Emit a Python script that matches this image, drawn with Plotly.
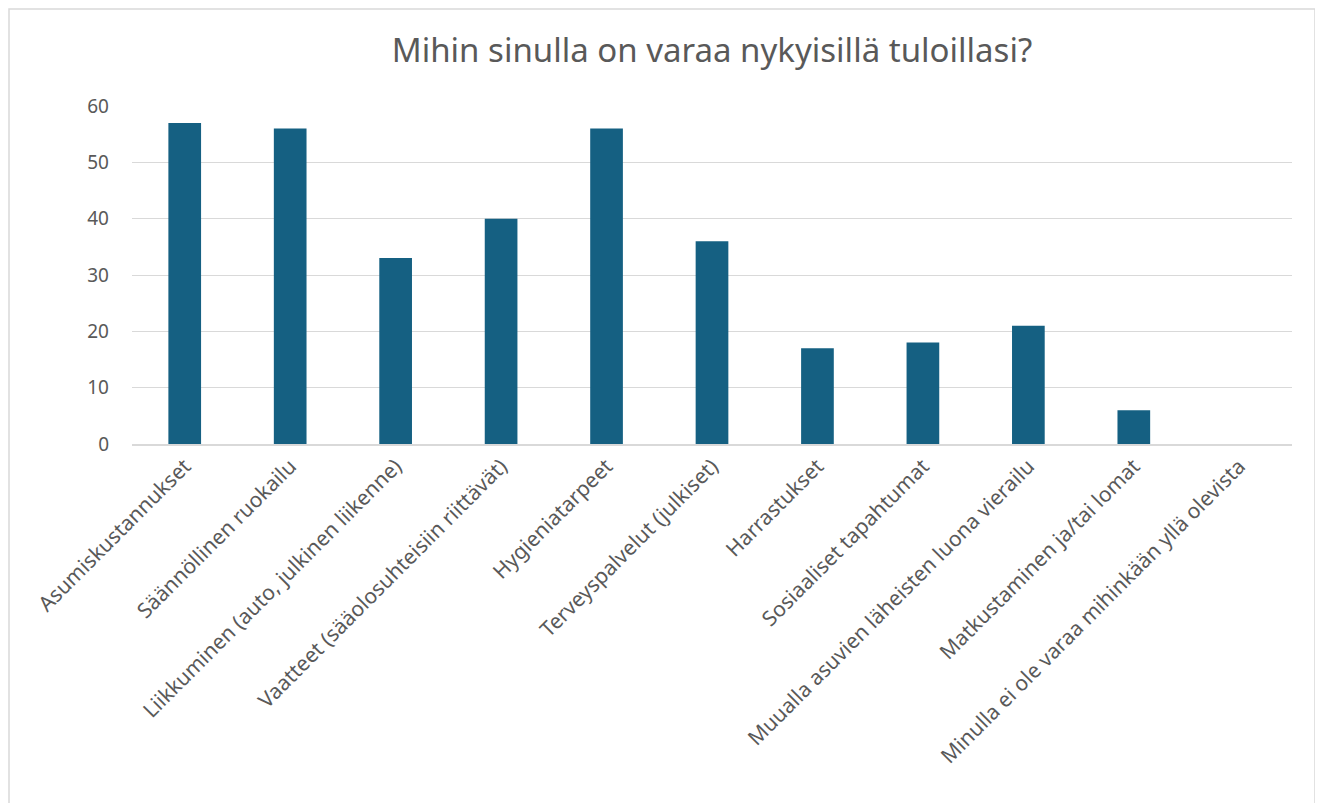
import plotly.graph_objects as go

categories = [
    "Asumiskustannukset",
    "Säännöllinen ruokailu",
    "Liikkuminen (auto, julkinen liikenne)",
    "Vaatteet (sääolosuhteisiin riittävät)",
    "Hygieniatarpeet",
    "Terveyspalvelut (julkiset)",
    "Harrastukset",
    "Sosiaaliset tapahtumat",
    "Muualla asuvien läheisten luona vierailu",
    "Matkustaminen ja/tai lomat",
    "Minulla ei ole varaa mihinkään yllä olevista",
]
values = [57, 56, 33, 40, 56, 36, 17, 18, 21, 6, 0]
y_ticks = [0, 10, 20, 30, 40, 50, 60]

# page body adds an 8px offset; compensate so the figure lands where the reference is
OFF = 8
W, H = 1323, 803
L, R, T, B = 132 - OFF, 31 + OFF, 106 - OFF, 359 + OFF
pw, ph = W - L - R, H - T - B

# border in figure pixels (kept just inside the figure so it is visible)
bx0, bx1, by0 = 1.0, 1315 - OFF, 1.0

fig = go.Figure(go.Bar(
    x=categories, y=values,
    marker=dict(color="#156082", line=dict(width=0)),
))

fig.update_layout(
    width=W, height=H,
    margin=dict(l=L, r=R, t=T, b=B, autoexpand=False),
    paper_bgcolor="white", plot_bgcolor="white",
    font=dict(family="Noto Sans, Open Sans, sans-serif", color="#595959", size=21),
    title=dict(text="Mihin sinulla on varaa nykyisillä tuloillasi?",
               x=0.5, xref="paper", xanchor="center",
               y=1 - (50 - OFF) / H, yanchor="middle",
               font=dict(size=33, color="#595959")),
    bargap=0.69,
    showlegend=False,
    shapes=[dict(type="rect", xref="paper", yref="paper",
                 x0=(bx0 - L) / pw, x1=(bx1 - L) / pw,
                 y0=(T + ph - 830) / ph, y1=(T + ph - by0) / ph,
                 line=dict(color="#d9d9d9", width=1.5), fillcolor="rgba(0,0,0,0)",
                 layer="below")],
)
fig.update_xaxes(tickangle=-45, showgrid=False, showline=True, linecolor="#d9d9d9",
                 linewidth=1.5, ticks="", tickfont=dict(size=21, color="#595959"),
                 automargin=False)
fig.update_yaxes(range=[0, 60], tickvals=y_ticks, showgrid=True, gridcolor="#d9d9d9",
                 gridwidth=1.2, zeroline=False, showline=False, ticks="",
                 ticklabelstandoff=22, tickfont=dict(size=19, color="#595959"),
                 automargin=False)

fig.write_html("out.html")
